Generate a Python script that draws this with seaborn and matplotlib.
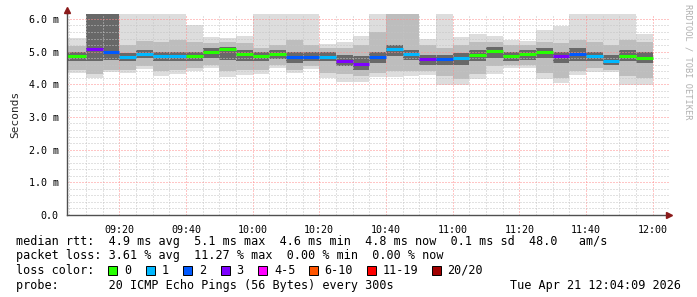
import matplotlib
matplotlib.use("Agg")
import matplotlib.pyplot as plt
import matplotlib.patches as mpatches
import seaborn as sns
import numpy as np

# ---------------- data (ms), one entry per 5-minute step ending 09:10 ... 12:00
end_minutes = [10 + 5 * i for i in range(35)]   # minutes after 09:00
median = [4.87, 5.09, 5.00, 4.84, 4.93, 4.87, 4.86, 4.86, 4.99, 5.07,
          4.93, 4.87, 4.93, 4.83, 4.84, 4.84, 4.71, 4.62, 4.83, 5.09,
          4.93, 4.77, 4.76, 4.81, 4.91, 5.03, 4.87, 4.93, 4.99, 4.88,
          4.93, 4.86, 4.71, 4.88, 4.81]
loss = [0, 3, 2, 1, 1, 1, 1, 0, 0, 0,
        0, 0, 0, 2, 2, 1, 3, 3, 2, 1,
        1, 3, 2, 1, 0, 0, 0, 0, 0, 3,
        2, 1, 1, 0, 0]
hi1 = [5.43, 6.3, 6.3, 6.3, 6.3, 6.3, 6.3, 5.82, 5.45, 5.41,
       5.48, 6.3, 6.3, 6.3, 6.3, 5.22, 5.30, 5.48, 6.3, 6.3,
       6.3, 5.39, 6.3, 5.45, 5.54, 5.48, 5.35, 5.33, 5.66, 5.78,
       6.3, 6.3, 6.3, 6.3, 5.54]
lo1 = [4.33, 4.20, 4.39, 4.36, 4.47, 4.25, 4.32, 4.41, 4.49, 4.23,
       4.28, 4.31, 4.51, 4.36, 4.46, 4.18, 4.08, 4.08, 4.23, 4.23,
       4.26, 4.28, 3.98, 3.98, 4.16, 4.32, 4.51, 4.51, 4.16, 4.04,
       4.28, 4.39, 4.37, 3.98, 3.98]
hi2 = [5.17, 6.3, 6.3, 5.20, 5.31, 5.30, 5.35, 5.30, 5.25, 5.30,
       5.25, 5.10, 5.20, 5.35, 5.20, 5.10, 5.10, 5.20, 5.60, 6.3,
       6.3, 5.20, 5.10, 5.20, 5.30, 5.30, 5.20, 5.20, 5.30, 5.25,
       5.35, 5.30, 5.20, 5.35, 5.30]
lo2 = [4.45, 4.30, 4.45, 4.45, 4.55, 4.40, 4.45, 4.50, 4.60, 4.40,
       4.45, 4.45, 4.60, 4.45, 4.55, 4.35, 4.30, 4.25, 4.35, 4.40,
       4.40, 4.40, 4.25, 4.15, 4.30, 4.55, 4.60, 4.60, 4.35, 4.20,
       4.40, 4.50, 4.45, 4.25, 4.20]
hi3 = [4.98, 6.3, 6.3, 4.95, 5.05, 5.00, 5.00, 5.00, 5.10, 5.15,
       5.05, 4.98, 5.05, 5.00, 5.00, 4.98, 4.90, 4.85, 5.00, 5.20,
       5.05, 4.90, 4.90, 4.95, 5.05, 5.15, 5.00, 5.05, 5.10, 5.00,
       5.10, 5.00, 4.90, 5.05, 5.00]
lo3 = [4.70, 4.70, 4.75, 4.72, 4.80, 4.70, 4.72, 4.72, 4.80, 4.75,
       4.72, 4.70, 4.78, 4.65, 4.70, 4.70, 4.55, 4.45, 4.65, 4.85,
       4.75, 4.60, 4.60, 4.60, 4.70, 4.80, 4.72, 4.75, 4.80, 4.65,
       4.70, 4.70, 4.60, 4.70, 4.65]

loss_colors = ["#26ff00", "#00b8ff", "#0059ff", "#7e00ff", "#ff00ff",
               "#ff5500", "#ff0000", "#a10000"]
loss_labels = ["0", "1", "2", "3", "4-5", "6-10", "11-19", "20/20"]

y_ticks = [0, 1, 2, 3, 4, 5, 6]
y_tick_labels = ["0.0", "1.0 m", "2.0 m", "3.0 m", "4.0 m", "5.0 m", "6.0 m"]
x_ticks = [20, 40, 60, 80, 100, 120, 140, 160, 180]
x_tick_labels = ["09:20", "09:40", "10:00", "10:20", "10:40",
                 "11:00", "11:20", "11:40", "12:00"]

rtt_stats = ["4.9", "5.1", "4.6", "4.8", "0.1"]
loss_stats = ["3.61", "11.27", "0.00", "0.00"]
probe_text = "20 ICMP Echo Pings (56 Bytes) every 300s"
stamp_text = "Tue Apr 21 12:04:09 2026"

# ---------------- style
sns.set_style("white")
MONO = "DejaVu Sans Mono"
plt.rcParams["font.family"] = [MONO, "DejaVu Sans"]

W, H = 697, 297
fig = plt.figure(figsize=(W / 100, H / 100), dpi=100)
fig.patch.set_facecolor("white")
ax = fig.add_axes([67 / W, 82 / H, 602 / W, 201 / H])
ax.set_facecolor("white")

XMIN, XMAX = 4.33, 184.9
YMAX = 6.15

ends = np.array(end_minutes, dtype=float)
lefts = ends - 5
lefts[0] = XMIN
widths = ends - lefts

for lo, hi, col in [(lo1, hi1, "#dddddd"), (lo2, hi2, "#bdbdbd"), (lo3, hi3, "#686868")]:
    lo = np.array(lo); hi = np.array(hi)
    ax.bar(lefts, hi - lo, bottom=lo, width=widths, align="edge",
           color=col, linewidth=0, zorder=1)

med_cols = [loss_colors[k] for k in loss]
ax.hlines(median, lefts, ends, colors=med_cols, linewidth=2.2, zorder=4)

ax.set_xlim(XMIN, XMAX)
ax.set_ylim(0, YMAX)
ax.set_xticks(x_ticks)
ax.set_xticklabels(x_tick_labels)
ax.set_xticks(np.arange(5, 185, 5), minor=True)
ax.set_yticks(y_ticks)
ax.set_yticklabels(y_tick_labels)
ax.set_yticks(np.arange(0, 6.2, 0.2), minor=True)

ax.set_axisbelow(False)
ax.grid(which="minor", color="#c4c4c4", linestyle=(0, (1, 2)), linewidth=0.72)
ax.grid(which="major", color="#ff8c8c", linestyle=(0, (1, 2)), linewidth=0.72)

for s in ["top", "right"]:
    ax.spines[s].set_visible(False)
for s in ["left", "bottom"]:
    ax.spines[s].set_color("#505050")
    ax.spines[s].set_linewidth(1.0)
    ax.spines[s].set_zorder(5)

ax.tick_params(which="both", direction="out", length=2, width=0.7,
               color="#505050", labelsize=7.2, labelcolor="#000000")
ax.tick_params(axis="y", pad=4)
ax.tick_params(axis="x", pad=5)

# axis arrows
ax.plot([0, 0], [1, 1.02], transform=ax.transAxes, color="#505050",
        lw=1, clip_on=False, zorder=5)
ax.plot([0], [1.02], marker="^", markersize=4.5, color="#8b1a1a",
        transform=ax.transAxes, clip_on=False, zorder=6)
ax.plot([1.0], [0], marker=">", markersize=4.5, color="#8b1a1a",
        transform=ax.transAxes, clip_on=False, zorder=6)

ax.set_ylabel("Seconds", fontsize=8, family=MONO, labelpad=6)

# side text
fig.text(688 / W, 1 - 4 / H, "RRDTOOL / TOBI OETIKER", rotation=270,
         ha="center", va="top", color="#b0b0b0", fontsize=6.2, family=MONO)

# legend / stats text
FS = 8.5
def ftext(x, y, s, **kw):
    fig.text(x / W, 1 - y / H, s, fontsize=FS, family=MONO, va="center",
             color="#000000", **kw)

line1 = ("median rtt:  {} ms avg  {} ms max  {} ms min  {} ms now  {} ms sd  48.0   am/s"
         .format(*rtt_stats))
line2 = "packet loss: {} % avg  {} % max  {} % min  {} % now".format(*loss_stats)
ftext(16, 241, line1)
ftext(16, 256, line2)
ftext(16, 270, "loss color:")
box_x = [108, 145.5, 183, 220.5, 258, 308.5, 366.5, 431.5]
for bx, col, lab in zip(box_x, loss_colors, loss_labels):
    fig.add_artist(mpatches.Rectangle((bx / W, 1 - 274.5 / H), 9 / W, 9 / H,
                                      transform=fig.transFigure, facecolor=col,
                                      edgecolor="#000000", linewidth=0.7))
    ftext(bx + 16, 270, lab)
ftext(16, 285, "probe:       " + probe_text)
ftext(681, 285, stamp_text, ha="right")

fig.savefig("out.png", dpi=100, facecolor="white")
